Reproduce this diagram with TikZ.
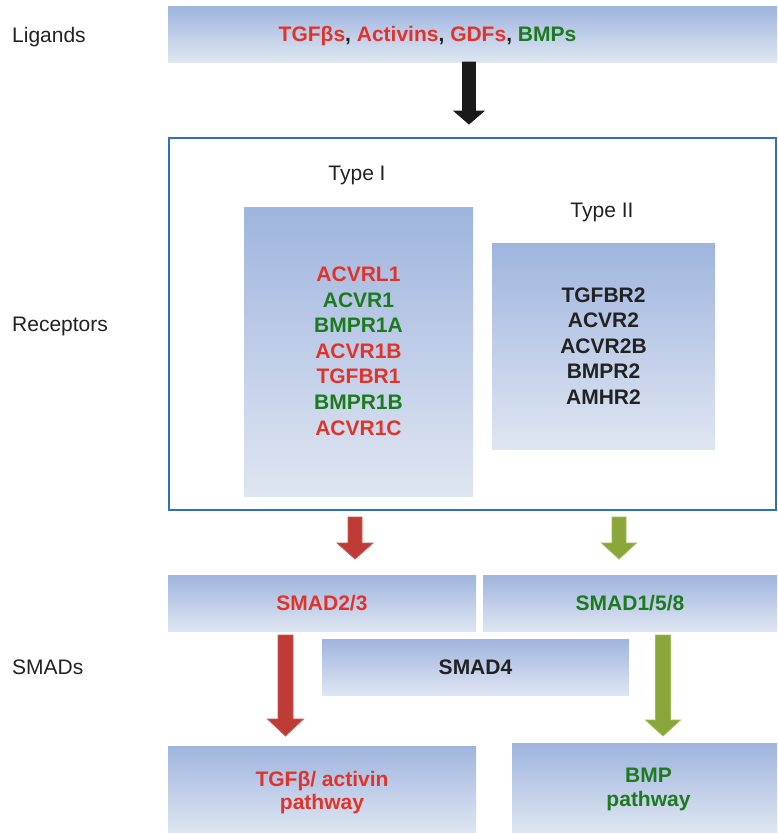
\documentclass[tikz,border=0pt]{standalone}
\usepackage{fontspec}
\setmainfont{Liberation Sans}
\definecolor{gtop}{HTML}{9FB5DE}
\definecolor{gbot}{HTML}{DFE6F2}
\definecolor{frameblue}{HTML}{2F71B5}
\definecolor{cred}{HTML}{E2332B}
\definecolor{cgreen}{HTML}{1C7A1F}
\definecolor{lblgray}{HTML}{222222}
\definecolor{arred}{HTML}{BF3B35}
\definecolor{arredb}{HTML}{CC5A55}
\definecolor{argreen}{HTML}{8AA63B}
\definecolor{argreenb}{HTML}{A0BC57}
\definecolor{arblack}{HTML}{1A1A1A}
\newcommand\blkarrow[8]{%
  \filldraw[fill=#7,draw=#8,line width=0.8pt,line join=miter]
    (#1-#5,#2) -- (#1+#5,#2) -- (#1+#5,#3) -- (#1+#6,#3) -- (#1,#4)
    -- (#1-#6,#3) -- (#1-#5,#3) -- cycle;}
\tikzset{
  gbox/.style={draw=none, top color=gtop, bottom color=gbot, inner sep=0pt, anchor=north west},
  lbl/.style={font=\fontsize{21}{25}\selectfont, text=lblgray, inner sep=0pt, anchor=base west},
  tlbl/.style={font=\fontsize{21}{25}\selectfont, text=lblgray, inner sep=0pt, anchor=base},
  bt/.style={font=\fontsize{21}{25}\selectfont\bfseries, inner sep=0pt, anchor=base},
}
\begin{document}
\begin{tikzpicture}[x=1pt,y=-1pt]
\useasboundingbox (0,0) rectangle (777,833);
% boxes
\node[gbox, minimum width=609pt, minimum height=56pt] (lig) at (168,6) {};
\node[draw=frameblue, line width=2.2pt, minimum width=607pt, minimum height=372pt, inner sep=0pt, anchor=north west] (rec) at (168,137) {};
\node[gbox, minimum width=229pt, minimum height=289pt] (t1) at (244,207) {};
\node[gbox, minimum width=223pt, minimum height=206pt] (t2) at (492,243) {};
\node[gbox, minimum width=308pt, minimum height=56pt] (s23) at (168,575) {};
\node[gbox, minimum width=294pt, minimum height=56pt] (s158) at (483,575) {};
\node[gbox, minimum width=307pt, minimum height=56pt] (s4) at (322,639) {};
\node[gbox, minimum width=308pt, minimum height=87pt] (tgf) at (168,746) {};
\node[gbox, minimum width=265pt, minimum height=90pt] (bmp) at (512,743) {};
% row labels
\node[lbl] (lLig) at (12,42) {Ligands};
\node[lbl] (lRec) at (12,331.5) {Receptors};
\node[lbl] (lSmad) at (12,674.5) {SMADs};
% ligands
\node[bt] (ligtxt) at (427.5,41.7) {\textcolor{cred}{TGFβs}\textcolor{lblgray}{,} \textcolor{cred}{Activins}\textcolor{lblgray}{,} \textcolor{cred}{GDFs}\textcolor{lblgray}{,} \textcolor{cgreen}{BMPs}};
% type labels
\node[tlbl] (ty1) at (357,180.7) {Type I};
\node[tlbl] (ty2) at (602,217) {Type II};
% type I list
\foreach \t/\c [count=\i] in {ACVRL1/cred,ACVR1/cgreen,BMPR1A/cgreen,ACVR1B/cred,TGFBR1/cred,BMPR1B/cgreen,ACVR1C/cred}
  \node[bt, text=\c] (ta\i) at (358.5,{281.7+25.55*(\i-1)}) {\t};
% type II list
\foreach \t [count=\i] in {TGFBR2,ACVR2,ACVR2B,BMPR2,AMHR2}
  \node[bt, text=lblgray] (tb\i) at (603.5,{302+25.5*(\i-1)}) {\t};
% smads
\node[bt, text=cred] (s23t) at (322,610) {SMAD2/3};
\node[bt, text=cgreen] (s158t) at (630,610) {SMAD1/5/8};
\node[bt, text=lblgray] (s4t) at (475.5,674) {SMAD4};
\node[bt, text=cred] (tgft1) at (322,786) {TGFβ/ activin};
\node[bt, text=cred] (tgft2) at (322,809) {pathway};
\node[bt, text=cgreen] (bmpt1) at (648.5,782) {BMP};
\node[bt, text=cgreen] (bmpt2) at (648.5,806) {pathway};
% arrows
\blkarrow{469}{62}{111}{124}{6.5}{15}{arblack}{arblack}
\blkarrow{355}{517}{543}{559}{7}{18}{arred}{arredb}
\blkarrow{619}{517}{543}{559}{7}{17.5}{argreen}{argreenb}
\blkarrow{285.5}{635}{719}{736}{7.5}{18}{arred}{arredb}
\blkarrow{663}{635}{720}{736}{7.5}{17.5}{argreen}{argreenb}
\end{tikzpicture}
\end{document}
